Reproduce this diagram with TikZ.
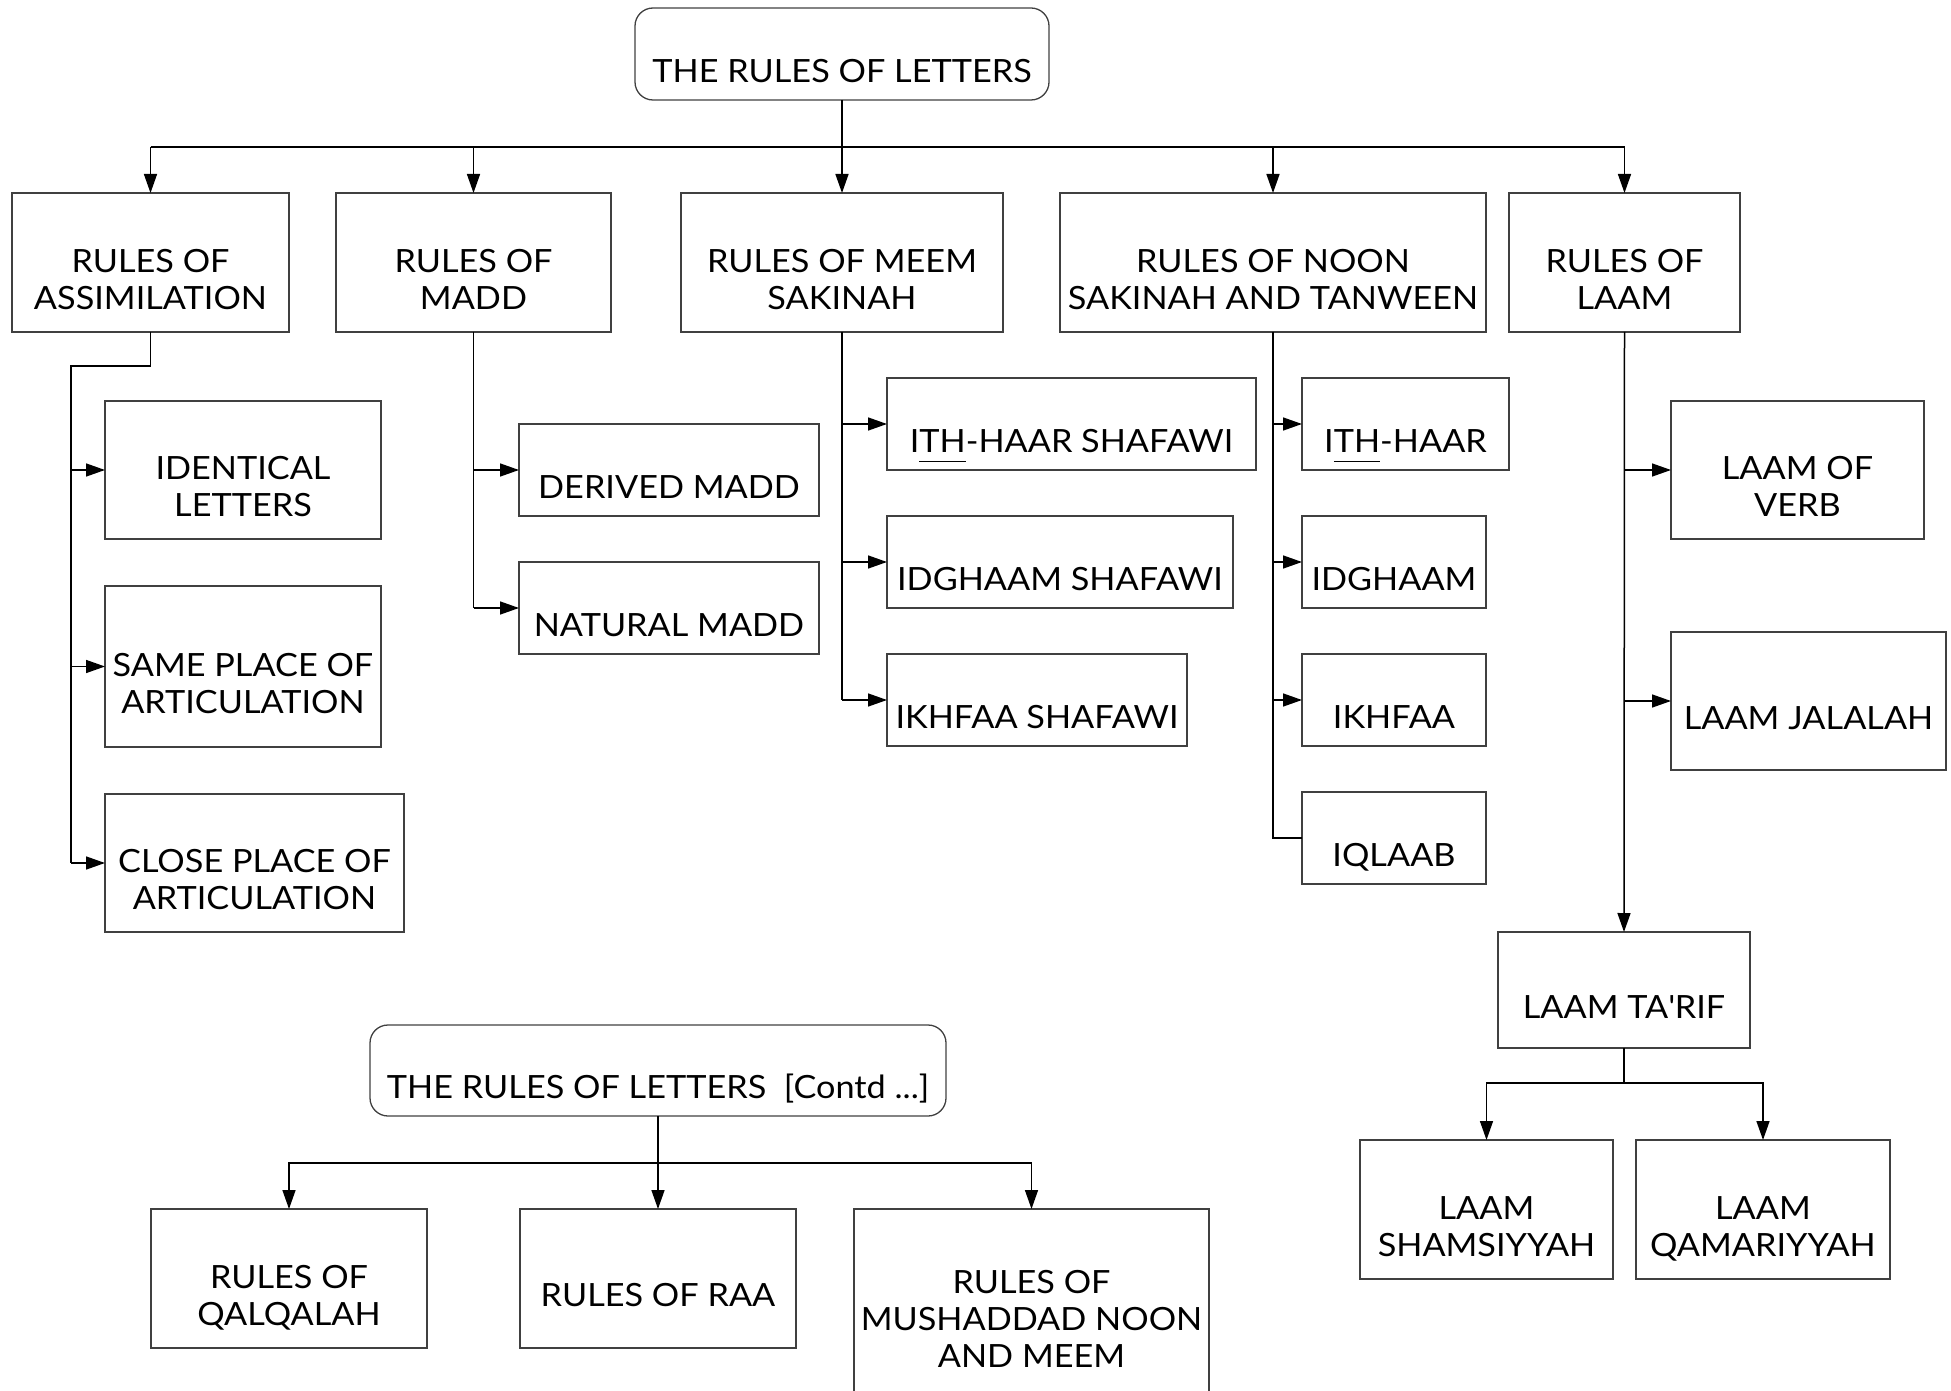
\documentclass[tikz,border=0pt]{standalone}
\usepackage{fontspec}
\setmainfont{Lato}[FakeStretch=1.07]
\usetikzlibrary{arrows.meta,fit}
\newcommand\boxtext[1]{\begin{tabular}{@{}c@{}}#1\end{tabular}}
\newcommand\thuline[1]{\setbox4\hbox{#1}\rlap{\rule[-5pt]{\wd4}{0.7pt}}\box4}
\tikzset{
  lbl/.style={font=\fontsize{16}{18.5}\selectfont, text=black, yshift=-10.5pt, inner sep=0pt},
  box/.style={draw=black!75, line width=0.65pt, inner sep=0pt, outer sep=0pt, fit={#1}},
  rbox/.style={box={#1}, rounded corners=9pt},
  tx/.style={label={[lbl]center:{\boxtext{#1}}}},
  conn/.style={draw=black, line width=0.75pt},
  arr/.style={conn, -{Triangle[length=9.5pt,width=6.5pt]}},
}
\begin{document}
\begin{tikzpicture}[x=0.5pt,y=-0.5pt]
\useasboundingbox (0,0) rectangle (1951,1391);
% top
\node[rbox={(635,8) (1049,100)}, tx={THE RULES OF LETTERS}] (T) {};
% level 1
\node[box={(12,193) (289,332)}, tx={RULES OF\\ASSIMILATION}] (A) {};
\node[box={(336,193) (611,332)}, tx={RULES OF\\MADD}] (M) {};
\node[box={(681,193) (1003,332)}, tx={RULES OF MEEM\\SAKINAH}] (S) {};
\node[box={(1060,193) (1486,332)}, tx={RULES OF NOON\\SAKINAH AND TANWEEN}] (N) {};
\node[box={(1509,193) (1740,332)}, tx={RULES OF\\LAAM}] (L) {};
% assimilation
\node[box={(105,401) (381,539)}, tx={IDENTICAL\\LETTERS}] (a1) {};
\node[box={(105,586) (381,747)}, tx={SAME PLACE OF\\ARTICULATION}] (a2) {};
\node[box={(105,794) (404,932)}, tx={CLOSE PLACE OF\\ARTICULATION}] (a3) {};
% madd
\node[box={(519,424) (819,516)}, tx={DERIVED MADD}] (m1) {};
\node[box={(519,562) (819,654)}, tx={NATURAL MADD}] (m2) {};
% meem
\node[box={(887,378) (1256,470)}, tx={I\thuline{TH}-HAAR SHAFAWI}] (s1) {};
\node[box={(887,516) (1233,608)}, tx={IDGHAAM SHAFAWI}] (s2) {};
\node[box={(887,654) (1187,746)}, tx={IKHFAA SHAFAWI}] (s3) {};
% noon
\node[box={(1302,378) (1509,470)}, tx={I\thuline{TH}-HAAR}] (n1) {};
\node[box={(1302,516) (1486,608)}, tx={IDGHAAM}] (n2) {};
\node[box={(1302,654) (1486,746)}, tx={IKHFAA}] (n3) {};
\node[box={(1302,792) (1486,884)}, tx={IQLAAB}] (n4) {};
% laam
\node[box={(1671,401) (1924,539)}, tx={LAAM OF\\VERB}] (l1) {};
\node[box={(1671,632) (1946,770)}, tx={LAAM JALALAH}] (l2) {};
\node[box={(1498,932) (1750,1048)}, tx={LAAM TA\textquotesingle RIF}] (l3) {};
\node[box={(1360,1140) (1613,1279)}, tx={LAAM\\SHAMSIYYAH}] (l4) {};
\node[box={(1636,1140) (1890,1279)}, tx={LAAM\\QAMARIYYAH}] (l5) {};
% bottom
\node[rbox={(370,1025) (946,1116)}, tx={THE RULES OF LETTERS~~[Contd ...]}] (C) {};
\node[box={(151,1209) (427,1348)}, tx={RULES OF\\QALQALAH}] (b1) {};
\node[box={(520,1209) (796,1348)}, tx={RULES OF RAA}] (b2) {};
\node[box={(854,1209) (1209,1395)}, tx={RULES OF\\MUSHADDAD NOON\\AND MEEM}] (b3) {};
% top connectors
\coordinate (bus) at (842,147);
\draw[conn] (A.north |- bus) -- (L.north |- bus);
\draw[arr] (T.south) -- (S.north);
\foreach \n in {A,M,N,L} \draw[arr] (\n.north |- bus) -- (\n.north);
% assimilation
\coordinate (ja) at (71,366);
\draw[conn] (A.south) |- (ja) -- (ja |- a3.west);
\foreach \n in {a1,a2,a3} \draw[arr] (ja |- \n.west) -- (\n.west);
% madd
\draw[conn] (M.south) -- (M.south |- m2.west);
\foreach \n in {m1,m2} \draw[arr] (M.south |- \n.west) -- (\n.west);
% meem
\draw[conn] (S.south) -- (S.south |- s3.west);
\foreach \n in {s1,s2,s3} \draw[arr] (S.south |- \n.west) -- (\n.west);
% noon
\draw[conn] (N.south) |- (n4.west);
\foreach \n in {n1,n2,n3} \draw[arr] (N.south |- \n.west) -- (\n.west);
% laam
\draw[arr] (L.south) -- (l3.north);
\foreach \n in {l1,l2} \draw[arr] (L.south |- \n.west) -- (\n.west);
\coordinate (jl) at (1624,1083);
\draw[conn] (l3.south) -- (jl);
\draw[arr] (jl) -| (l4.north);
\draw[arr] (jl) -| (l5.north);
% bottom
\coordinate (jb) at (658,1163);
\draw[arr] (C.south) -- (b2.north);
\draw[arr] (jb) -| (b1.north);
\draw[arr] (jb) -| (b3.north);
\end{tikzpicture}
\end{document}
